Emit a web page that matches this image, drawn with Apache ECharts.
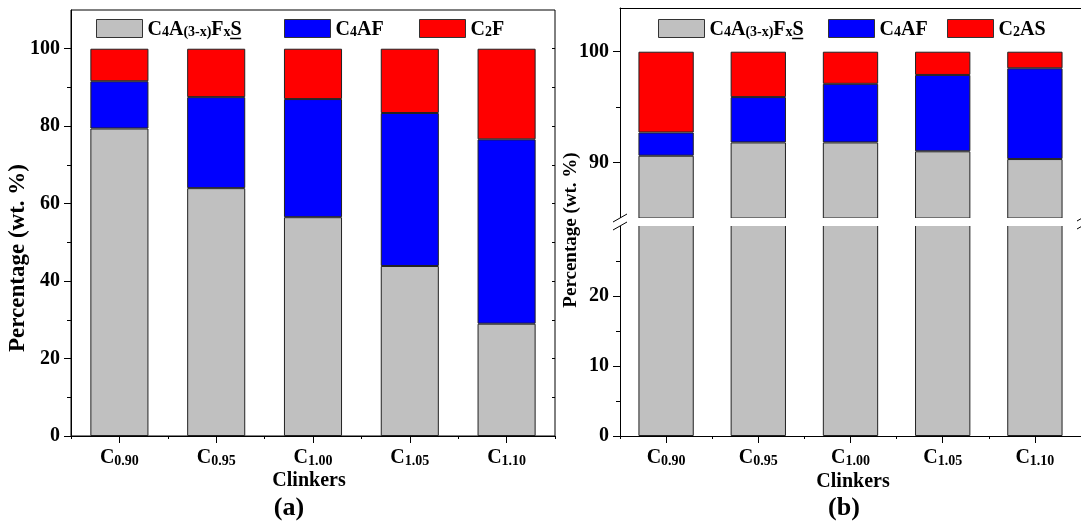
<!DOCTYPE html>
<html><head><meta charset="utf-8">
<script src="https://cdn.jsdelivr.net/npm/echarts@6/dist/echarts.min.js"></script>
<style>html,body{margin:0;padding:0;background:#fff}#c{width:1081px;height:524px}</style>
</head><body><div id="c"></div><script>
// ---- data ----
const categories = ['C0.90', 'C0.95', 'C1.00', 'C1.05', 'C1.10'];
// panel (a)
const aC4A3xFxS = [79.4, 64.0, 56.5, 43.9, 29.0];
const aC4AF     = [12.2, 23.5, 30.5, 39.5, 47.6];
const aC2F      = [8.4, 12.5, 13.0, 16.6, 23.4];
// panel (b)
const bC4A3xFxS = [90.6, 91.8, 91.8, 91.0, 90.3];
const bC4AF     = [2.1, 4.1, 5.3, 6.9, 8.2];
const bC2AS     = [7.3, 4.1, 2.9, 2.1, 1.5];
// ticks
const aTicks = [0, 20, 40, 60, 80, 100];
const aMinor = [10, 30, 50, 70, 90];
const aRight = [10, 20, 30, 40, 50, 60, 70, 80, 90, 100];
const bUpperTicks = [90, 100];
const bUpperMinor = [95];
const bLowerTicks = [0, 10, 20];
const bLowerMinor = [5, 15, 25];

const N1 = 'C4A(3-x)FxS', N2 = 'C4AF', N3 = 'C2F', N4 = 'C2AS';
const SERIF = '"Liberation Serif", "Times New Roman", serif';
const GRAY = '#c0c0c0', BLUE = '#0000ff', RED = '#ff0000', EDGE = '#222';

const chart = echarts.init(document.getElementById('c'), null, {renderer: 'canvas'});

const mainRich = {
  m: {fontFamily: SERIF, fontWeight: 'bold', fontSize: 20, lineHeight: 22, verticalAlign: 'bottom', color: '#000'},
  s: {fontFamily: SERIF, fontWeight: 'bold', fontSize: 14, lineHeight: 16, verticalAlign: 'bottom', color: '#000'}
};
function legendFmt(name) {
  if (name === N1) return '{m|C}{s|4}{m|A}{s|(3-x)}{m|F}{s|x}{m|S}';
  if (name === N2) return '{m|C}{s|4}{m|AF}';
  if (name === N3) return '{m|C}{s|2}{m|F}';
  if (name === N4) return '{m|C}{s|2}{m|AS}';
  return name;
}
function catFmt(v) { return '{m|C}{s|' + v.slice(1) + '}'; }

const LEG_TOP = 19;
function legend(name, left) {
  return {
    data: [name], left: left, top: LEG_TOP, padding: 0, itemGap: 0,
    itemWidth: 46, itemHeight: 18, icon: 'rect', selectedMode: false,
    itemStyle: {borderColor: '#333', borderWidth: 1},
    formatter: legendFmt, textStyle: {rich: mainRich}
  };
}

const blk = {color: '#000', width: 1};
function catAxis(grid, opts) {
  return Object.assign({
    type: 'category', gridIndex: grid, data: categories, boundaryGap: true, position: 'bottom',
    axisLine: {show: true, lineStyle: blk},
    axisTick: {show: true, alignWithLabel: true, length: 7, lineStyle: blk},
    axisLabel: {show: true, margin: 10, formatter: catFmt, rich: mainRich},
    splitLine: {show: false}
  }, opts || {});
}
function bndAxis(grid) {
  return {
    type: 'category', gridIndex: grid, data: categories, boundaryGap: true, position: 'bottom',
    axisLine: {show: false}, axisTick: {show: true, length: 3, lineStyle: blk},
    axisLabel: {show: false}, splitLine: {show: false}
  };
}
function valAxis(grid, min, max, ticks, opts) {
  return Object.assign({
    type: 'value', gridIndex: grid, min: min, max: max, position: 'left', offset: 0,
    axisLine: {show: true, onZero: false, lineStyle: blk},
    axisTick: {show: true, length: 7, lineStyle: blk, customValues: ticks},
    axisLabel: {show: true, margin: 11, customValues: ticks, color: '#000',
      fontFamily: SERIF, fontWeight: 'bold', fontSize: 20},
    splitLine: {show: false}
  }, opts || {});
}
function minorAxis(grid, min, max, ticks, opts) {
  return Object.assign({
    type: 'value', gridIndex: grid, min: min, max: max, position: 'left', offset: 0,
    axisLine: {show: false},
    axisTick: {show: true, length: 4, lineStyle: blk, customValues: ticks},
    axisLabel: {show: false}, splitLine: {show: false}
  }, opts || {});
}
function bar(name, data, color, xi, yi, stack) {
  return {
    type: 'bar', name: name, data: data, xAxisIndex: xi, yAxisIndex: yi, stack: stack,
    barWidth: '60%', clip: true,
    itemStyle: {color: color, borderColor: EDGE, borderWidth: 1},
    emphasis: {disabled: true}
  };
}

// underline positions for the "S" in legend label N1
const cv = document.createElement('canvas').getContext('2d');
function tw(t, size) { cv.font = 'bold ' + size + 'px ' + SERIF; return cv.measureText(t).width; }
function underline(left) {
  const x0 = left + 46 + 5 + tw('C', 20) + tw('4', 14) + tw('A', 20) + tw('(3-x)', 14) + tw('F', 20) + tw('x', 14);
  const w = tw('S', 20);
  return {type: 'line', shape: {x1: x0, y1: 38.5, x2: x0 + w, y2: 38.5},
    style: {stroke: '#000', lineWidth: 1.5}, silent: true};
}
function tline(x1, y1, x2, y2) {
  return {type: 'line', z: 101, shape: {x1, y1, x2, y2}, style: {stroke: '#000', lineWidth: 1}, silent: true};
}
function txt(t, x, y, size, rot) {
  return {type: 'text', x: x, y: y, rotation: rot || 0, silent: true,
    style: {text: t, fill: '#000', fontFamily: SERIF, fontWeight: 'bold', fontSize: size,
      align: 'center', verticalAlign: 'middle'}};
}

// panel (b) axis break: upper grid 8..226 (84.25..103.95), lower grid 218..436 (0..31.14),
// the 218..226 band is covered by a white strip.
const option = {
  animation: false,
  backgroundColor: '#fff',
  legend: [legend(N1, 96), legend(N2, 284), legend(N3, 419),
           legend(N1, 658), legend(N2, 828), legend(N4, 947)],
  grid: [
    {left: 71, top: 10, width: 484, height: 426, show: true, borderColor: '#000', borderWidth: 1, containLabel: false},
    {left: 620, top: 8, width: 464, height: 218, containLabel: false},
    {left: 620, top: 218, width: 464, height: 218, containLabel: false}
  ],
  xAxis: [
    catAxis(0),
    bndAxis(0),
    {type: 'category', gridIndex: 1, data: categories, position: 'top',
      axisLine: {show: true, lineStyle: blk}, axisTick: {show: false}, axisLabel: {show: false}},
    catAxis(2),
    bndAxis(2)
  ],
  yAxis: [
    valAxis(0, 0, 110, aTicks),
    minorAxis(0, 0, 110, aMinor),
    minorAxis(0, 0, 110, aRight, {position: 'right', axisTick: {show: true, inside: true, length: 3, lineStyle: blk, customValues: aRight}}),
    valAxis(1, 84.25, 103.95, bUpperTicks),
    minorAxis(1, 84.25, 103.95, bUpperMinor),
    valAxis(2, 0, 31.14, bLowerTicks),
    minorAxis(2, 0, 31.14, bLowerMinor)
  ],
  series: [
    bar(N1, aC4A3xFxS, GRAY, 0, 0, 'a'),
    bar(N2, aC4AF, BLUE, 0, 0, 'a'),
    bar(N3, aC2F, RED, 0, 0, 'a'),
    bar(N1, bC4A3xFxS, GRAY, 2, 3, 'bu'),
    bar(N2, bC4AF, BLUE, 2, 3, 'bu'),
    bar(N4, bC2AS, RED, 2, 3, 'bu'),
    bar(N1, bC4A3xFxS, GRAY, 3, 5, 'bl')
  ],
  graphic: [
    txt('Percentage (wt. %)', 18, 258, 23, Math.PI / 2),
    txt('Percentage (wt. %)', 571, 230, 19, Math.PI / 2),
    txt('Clinkers', 309, 481, 20),
    txt('Clinkers', 853, 482, 20),
    txt('(a)', 289, 508, 26),
    txt('(b)', 844, 508, 26),
    underline(96),
    underline(658),
    {type: 'rect', z: 100, silent: true, shape: {x: 619.5, y: 218, width: 470, height: 8}, style: {fill: '#fff'}},
    tline(613, 222, 627, 214),
    tline(613, 230, 627, 222),
    tline(1077, 221, 1091, 213),
    tline(1077, 229, 1091, 221)
  ]
};
chart.setOption(option);
</script></body></html>
